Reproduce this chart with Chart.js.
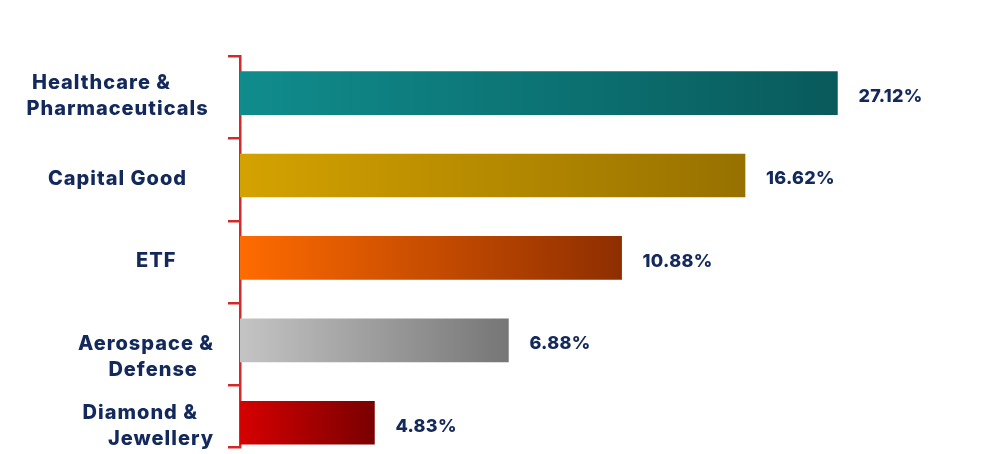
<!DOCTYPE html>
<html>
<head>
<meta charset="utf-8">
<script src="https://cdn.jsdelivr.net/npm/chart.js@4"></script>
<style>
  html, body { margin: 0; padding: 0; background: #ffffff; }
  #wrap { width: 1006px; height: 454px; position: relative; }
</style>
</head>
<body>
<div id="wrap"><canvas id="c"></canvas></div>
<script>
// ---- data ----
const categories = [
  ["Healthcare &        ", "Pharmaceuticals "],
  ["Capital Good     "],
  ["ETF       "],
  ["", "Aerospace &", "Defense   "],
  ["Diamond &   ", "Jewellery"]
];
// shares shown next to each bar (%)
const shares = [27.12, 16.62, 10.88, 6.88, 4.83];
// bar lengths as drawn in the picture (relative units; the design is not proportional to the shares)
const barLength = [29.87, 25.25, 19.08, 13.42, 6.72];
// gradient colours per bar: [left, right]
const barColors = [
  ["#108c8d", "#095a5b"],
  ["#d4a200", "#977100"],
  ["#ff6b00", "#8e2e00"],
  ["#c4c4c4", "#767676"],
  ["#d60000", "#7a0000"]
];

const NAVY = "#13295b";
const RED = "#d22a2a";

const spacing = {
  id: "spacing",
  beforeDraw(chart) { chart.ctx.letterSpacing = "1px"; }
};

const valueLabels = {
  id: "valueLabels",
  afterDatasetsDraw(chart) {
    const ctx = chart.ctx;
    const meta = chart.getDatasetMeta(0);
    ctx.save();
    ctx.letterSpacing = "0.3px";
    ctx.font = "800 18px Inter";
    ctx.fillStyle = NAVY;
    ctx.textAlign = "left";
    ctx.textBaseline = "middle";
    meta.data.forEach((bar, i) => {
      ctx.fillText(shares[i].toFixed(2) + "%", bar.x + 21, bar.y + 3.5);
    });
    ctx.restore();
  }
};

const yMin = -0.45, yMax = 4.3;

new Chart(document.getElementById("c"), {
  type: "bar",
  data: {
    datasets: [{
      data: barLength.map((v, i) => ({ x: v, y: i })),
      yAxisID: "y",
      xAxisID: "x",
      barThickness: 43,
      borderWidth: 0,
      backgroundColor(context) {
        const chart = context.chart;
        const i = context.dataIndex;
        const xs = chart.scales.x;
        if (!xs || !chart.chartArea || i === undefined) return barColors[0][0];
        const x0 = xs.getPixelForValue(0);
        const x1 = xs.getPixelForValue(barLength[i]);
        if (!isFinite(x0) || !isFinite(x1) || x1 <= x0) return barColors[i][0];
        const g = chart.ctx.createLinearGradient(x0, 0, x1, 0);
        g.addColorStop(0, barColors[i][0]);
        g.addColorStop(1, barColors[i][1]);
        return g;
      }
    }]
  },
  options: {
    indexAxis: "y",
    responsive: true,
    maintainAspectRatio: false,
    animation: false,
    events: [],
    layout: { padding: { left: 0, right: 16, top: 56, bottom: 6.5 } },
    plugins: { legend: { display: false }, tooltip: { enabled: false } },
    scales: {
      x: { type: "linear", display: false, min: 0, max: 37.5 },
      y: {
        type: "linear",
        position: "left",
        weight: 1,
        reverse: true,
        offset: false,
        bounds: "data",
        min: yMin,
        max: yMax,
        afterBuildTicks(scale) {
          scale.ticks = categories.map((c, i) => ({ value: i + 0.04 }));
        },
        afterFit(scale) {
          scale.width = 228;
          scale.paddingTop = 0;
          scale.paddingBottom = 0;
        },
        grid: { display: false, drawTicks: false, offset: false },
        border: { display: false },
        ticks: {
          padding: 14,
          crossAlign: "near",
          color: NAVY,
          font: { family: "Inter", weight: "800", size: 20, lineHeight: 1.3 },
          callback(value, index) { return categories[index]; }
        }
      },
      bracket: {
        type: "linear",
        position: "left",
        weight: 0,
        reverse: true,
        offset: false,
        bounds: "data",
        min: yMin,
        max: yMax,
        afterBuildTicks(scale) {
          const t = categories.map((c, i) => ({ value: i - 0.45 }));
          t.push({ value: yMax });
          scale.ticks = t;
        },
        afterFit(scale) { scale.width = 12; scale.paddingTop = 0; scale.paddingBottom = 0; },
        grid: { display: true, offset: false, drawOnChartArea: false, drawTicks: true, tickLength: 12, color: RED, lineWidth: 2.5 },
        border: { display: true, color: RED, width: 2.5 },
        ticks: { display: false }
      }
    }
  },
  plugins: [spacing, valueLabels]
});
</script>
</body>
</html>
